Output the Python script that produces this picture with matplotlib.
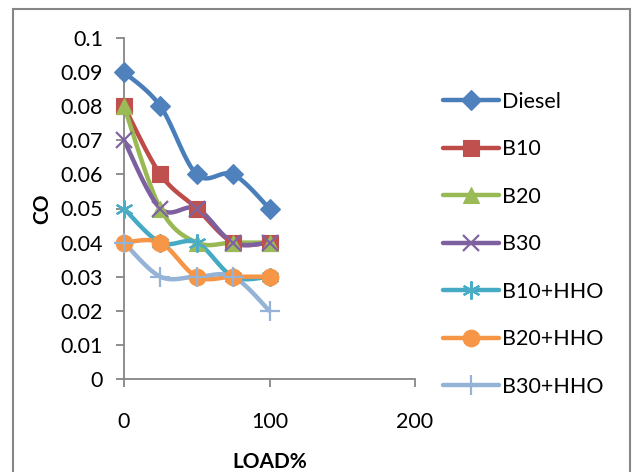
import numpy as np
import matplotlib
matplotlib.use("Agg")
import matplotlib.pyplot as plt
from matplotlib.patches import Rectangle
from matplotlib.lines import Line2D

plt.rcParams['font.family'] = ['Lato', 'DejaVu Sans']

load = [0, 25, 50, 75, 100]
series_names = ["Diesel", "B10", "B20", "B30", "B10+HHO", "B20+HHO", "B30+HHO"]
diesel = [0.09, 0.08, 0.06, 0.06, 0.05]
b10 = [0.08, 0.06, 0.05, 0.04, 0.04]
b20 = [0.08, 0.05, 0.04, 0.04, 0.04]
b30 = [0.07, 0.05, 0.05, 0.04, 0.04]
b10_hho = [0.05, 0.04, 0.04, 0.03, 0.03]
b20_hho = [0.04, 0.04, 0.03, 0.03, 0.03]
b30_hho = [0.04, 0.03, 0.03, 0.03, 0.02]
series_values = [diesel, b10, b20, b30, b10_hho, b20_hho, b30_hho]

line_colors = ["#4A7EBB", "#BE4B48", "#98B954", "#7D60A0", "#46AAC5", "#F69546", "#94B3D6"]
marker_colors = ["#4F81BD", "#C0504D", "#9BBB59", "#8064A2", "#4BACC6", "#F79646", "#95B3D7"]
markers = ["D", "s", "^", "x", (6, 2, 0), "o", "+"]
msizes = [10, 11, 11, 12, 13, 12, 14]


def smooth(x, y, steps=30):
    """Catmull-Rom style smoothed curve through the points (like spreadsheet smoothed lines)."""
    x = np.asarray(x, float)
    y = np.asarray(y, float)
    px = np.concatenate([[x[0]], x, [x[-1]]])
    py = np.concatenate([[y[0]], y, [y[-1]]])
    xs, ys = [], []
    t = np.linspace(0, 1, steps)
    for i in range(1, len(px) - 2):
        p0, p1, p2, p3 = (np.array([px[j], py[j]]) for j in (i - 1, i, i + 1, i + 2))
        c1 = p1 + (p2 - p0) / 6.0
        c2 = p2 - (p3 - p1) / 6.0
        b = ((1 - t) ** 3)[:, None] * p1 + (3 * (1 - t) ** 2 * t)[:, None] * c1 \
            + (3 * (1 - t) * t ** 2)[:, None] * c2 + (t ** 3)[:, None] * p2
        xs.extend(b[:, 0])
        ys.extend(b[:, 1])
    return np.array(xs), np.array(ys)


fig = plt.figure(figsize=(6.35, 4.72), dpi=100)
ax = fig.add_axes([124 / 635, 1 - 379 / 472, (415 - 124) / 635, (379 - 38) / 472])

handles = []
for name, vals, lc, mc, mk, ms in zip(series_names, series_values, line_colors,
                                      marker_colors, markers, msizes):
    sx, sy = smooth(load, vals)
    ax.plot(sx, sy, color=lc, lw=3.2, solid_capstyle='round', zorder=2)
    mew = 1.6 if mk in ("x", "+") or isinstance(mk, tuple) else 0.8
    ax.plot(load, vals, linestyle='none', marker=mk, markersize=ms, color=mc,
            markeredgecolor=mc, markeredgewidth=mew, zorder=3, clip_on=False)
    handles.append(Line2D([0], [0], color=lc, lw=3.2, marker=mk, markersize=ms,
                          markerfacecolor=mc, markeredgecolor=mc,
                          markeredgewidth=mew, solid_capstyle='round'))

ax.set_xlim(0, 200)
ax.set_ylim(0, 0.1)
ax.set_xticks([0, 100, 200])
ax.set_yticks(np.arange(0, 0.1001, 0.01))
ax.set_yticklabels(["0"] + [f"{v:.2f}".rstrip("0") if v != 0.1 else "0.1"
                            for v in np.arange(0.01, 0.1001, 0.01)])
for s in ("top", "right"):
    ax.spines[s].set_visible(False)
for s in ("left", "bottom"):
    ax.spines[s].set_color("#868686")
    ax.spines[s].set_linewidth(1.3)
ax.tick_params(axis='both', colors="#868686", length=6, width=1.3, labelsize=15.5,
               labelcolor="black", direction='out')
ax.tick_params(axis='x', pad=18)
ax.tick_params(axis='y', pad=9)

ax.set_xlabel("LOAD%", fontsize=15, fontweight='bold', labelpad=14)
ax.set_ylabel("CO", fontsize=15, fontweight='bold', labelpad=6)

fig.legend(handles, series_names, loc='upper left', bbox_to_anchor=(434 / 635, 1 - 83 / 472),
           frameon=False, fontsize=15.5, handlelength=2.6, handletextpad=0.15,
           labelspacing=1.28, borderaxespad=0)

fig.patches.append(Rectangle((13 / 635, -0.01), (630 - 13) / 635, 1 - 9 / 472 + 0.01,
                             transform=fig.transFigure, fill=False,
                             edgecolor="#868686", lw=1.5))

fig.savefig("out.png", dpi=100)
